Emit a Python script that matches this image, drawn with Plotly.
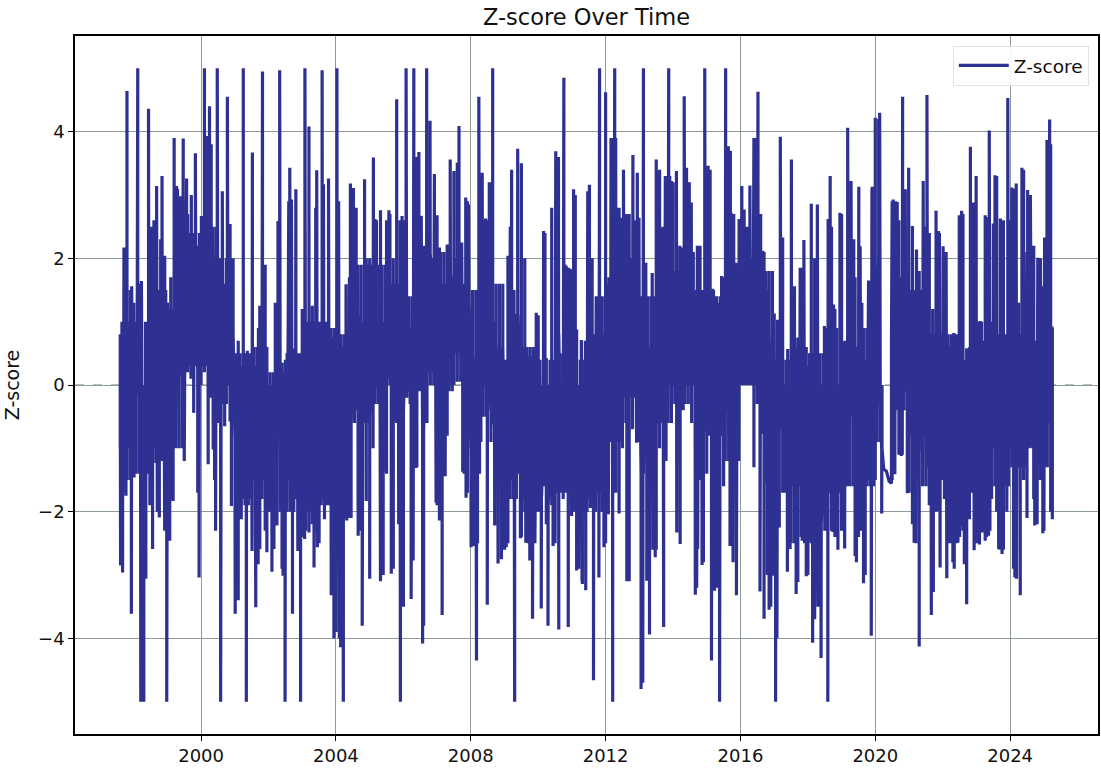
import pandas as pd
import plotly.graph_objects as go

peak_years = [
1997.71,1997.80,1997.94,1998.12,1998.23,1998.44,1998.53,1998.61,1998.68,1998.84,1998.92,1999.20,1999.27,1999.39,1999.47,1999.57,1999.71,1999.83,1999.91,
2000.01,2000.10,2000.17,2000.25,2000.31,2000.48,2000.63,2000.78,2000.86,2001.08,2001.25,2001.37,2001.52,2001.74,2001.82,2001.89,2002.28,2002.33,2002.63,2002.68,2002.81,
2003.08,2003.20,2003.43,2003.59,2003.63,2003.78,2004.03,2004.08,2004.30,2004.43,2004.52,2004.60,2004.70,2004.85,2005.11,2005.16,2005.32,2005.57,2005.80,2005.96,
2006.08,2006.31,2006.46,2006.53,2006.69,2006.79,2006.92,2007.00,2007.07,2007.12,2007.20,2007.30,2007.39,2007.50,2007.60,2007.65,2007.73,2007.85,2007.93,
2008.11,2008.24,2008.34,2008.44,2008.55,2008.65,2008.90,2009.03,2009.10,2009.17,2009.21,2009.28,2009.39,2009.51,2009.64,2009.74,2009.94,2009.99,
2010.16,2010.40,2010.52,2010.76,2010.83,2010.95,2011.05,2011.10,2011.28,2011.47,2011.52,2011.57,2011.72,2011.82,
2012.00,2012.16,2012.27,2012.37,2012.49,2012.53,2012.65,2012.81,2012.94,2012.99,2013.12,2013.19,2013.38,2013.50,2013.56,2013.65,2013.77,2013.87,2013.95,
2014.10,2014.25,2014.33,2014.40,2014.48,2014.54,2014.72,2014.81,2014.94,2015.04,2015.17,2015.29,2015.44,2015.56,2015.64,2015.72,2015.86,2015.96,
2016.04,2016.11,2016.28,2016.38,2016.46,2016.52,2016.66,2016.75,2017.00,2017.10,2017.18,2017.25,2017.40,2017.51,2017.60,2017.77,2017.88,
2018.04,2018.10,2018.28,2018.49,2018.60,2018.66,2018.76,2018.95,2019.04,2019.18,2019.28,2019.36,2019.51,2019.55,2019.80,2019.91,
2020.00,2020.13,2020.48,2020.53,2020.65,2020.81,2020.89,2020.99,2021.10,2021.22,2021.42,2021.53,2021.62,2021.80,2021.87,
2022.01,2022.18,2022.33,2022.49,2022.56,2022.71,2022.82,2022.91,2022.99,2023.11,2023.26,2023.38,2023.55,2023.71,2023.93,
2024.05,2024.18,2024.35,2024.52,2024.62,2024.82,2024.94,2025.02,2025.09,2025.17,2025.24]
peak_values = [
2.17,4.64,1.56,5.0,1.64,4.36,2.5,2.6,3.14,3.3,2.04,3.9,3.14,2.98,3.89,3.26,3.0,3.66,2.17,
2.67,5.0,3.93,4.4,3.8,5.0,3.06,4.55,2.54,0.69,5.0,0.54,3.67,1.25,4.95,1.88,2.59,4.97,3.43,2.93,3.09,
5.0,4.08,3.39,4.97,3.17,3.26,5.0,2.9,1.59,3.18,3.11,2.8,1.09,3.25,3.59,2.62,2.76,2.76,4.51,2.67,
5.0,5.0,3.68,2.67,5.0,4.17,3.33,2.68,2.17,1.43,2.09,2.22,3.56,3.38,3.51,4.09,2.25,2.96,2.85,
0.1,4.55,3.35,2.63,3.2,5.0,0.04,0.22,2.04,2.5,3.4,1.5,3.73,3.5,0.43,0.43,1.14,0.75,
2.43,2.8,3.69,4.85,1.88,1.83,3.09,2.33,0.71,3.06,3.16,1.98,1.4,5.0,
4.62,3.9,5.0,2.8,2.64,3.4,2.69,3.63,3.35,2.64,5.0,1.93,1.77,3.56,3.38,2.47,3.3,5.0,3.22,
3.38,2.17,4.56,3.43,3.2,2.88,2.2,1.4,5.0,3.46,1.52,1.4,1.72,5.0,3.77,2.72,1.93,2.62,
3.14,2.77,3.15,3.89,3.9,4.63,2.12,1.59,1.13,1.03,3.92,2.33,0.57,3.56,1.56,1.85,2.29,
0.33,2.86,2.85,0.93,2.62,3.3,1.27,2.72,0.67,4.06,3.22,2.3,3.13,2.19,1.64,3.13,
4.22,4.3,0.4,2.93,2.89,4.55,3.09,3.43,2.51,2.14,3.22,4.58,2.17,2.75,2.43,
2.19,0.62,0.82,2.68,2.75,0.58,3.76,2.88,3.3,1.01,2.68,4.02,3.31,2.63,4.53,
3.12,3.18,3.43,3.08,2.26,2.01,1.56,2.33,3.87,4.19,0.04]

trough_years = [
1997.61,1997.67,1997.77,1997.93,1998.01,1998.21,1998.30,1998.36,1998.48,1998.56,1998.66,1998.76,1998.92,1998.98,1999.07,1999.17,1999.52,1999.78,1999.91,1999.94,
2000.21,2000.36,2000.43,2000.58,2000.70,2000.90,2001.01,2001.10,2001.19,2001.34,2001.39,2001.51,2001.62,2001.69,2001.74,2001.95,
2002.10,2002.16,2002.25,2002.43,2002.49,2002.58,2002.71,2002.87,2002.95,2003.07,2003.20,2003.35,2003.45,2003.56,2003.66,2003.86,2003.94,
2004.04,2004.14,2004.22,2004.32,2004.66,2004.78,2004.90,2005.00,2005.19,2005.32,2005.46,2005.64,2005.74,2005.86,2005.91,2005.98,
2006.23,2006.29,2006.37,2006.57,2006.67,2006.97,2007.07,2007.15,2007.24,2007.76,2007.86,2008.01,2008.08,2008.17,2008.26,2008.49,2008.71,2008.81,2008.91,
2009.05,2009.20,2009.30,2009.37,2009.47,2009.63,2009.75,2009.83,2009.92,2010.09,2010.24,2010.29,2010.44,2010.61,2010.74,2010.89,2010.99,
2011.14,2011.31,2011.41,2011.55,2011.64,2011.80,2011.95,2012.08,2012.21,2012.40,2012.63,2012.92,2013.05,2013.22,2013.30,2013.47,2013.72,2013.79,
2014.11,2014.21,2014.66,2014.73,2014.86,2014.99,2015.14,2015.23,2015.38,2015.55,2015.69,2015.78,2015.88,
2016.40,2016.58,2016.70,2016.77,2016.85,2016.95,2017.04,2017.08,2017.15,2017.30,2017.39,2017.47,2017.60,2017.65,2017.70,2017.83,2017.95,
2018.05,2018.14,2018.22,2018.39,2018.51,2018.59,2018.74,2018.89,2018.99,2019.09,2019.19,2019.44,2019.57,2019.65,2019.78,2019.88,2019.98,
2020.19,2020.25,2020.33,2020.41,2020.48,2020.58,2020.77,2020.95,2021.15,2021.30,2021.42,2021.66,2021.72,2021.84,2021.92,
2022.04,2022.12,2022.22,2022.34,2022.45,2022.56,2022.64,2022.71,2022.79,2022.93,2023.09,2023.18,2023.26,2023.36,2023.50,2023.66,2023.76,2023.91,
2024.14,2024.19,2024.30,2024.38,2024.48,2024.60,2024.73,2024.85,2024.97,2025.10,2025.25]
trough_values = [
-2.85,-2.96,-1.75,-3.61,-1.46,-5,-5,-3.06,-1.9,-2.59,-1.23,-2.09,-2.3,-5,-2.46,-1.83,-1.19,-0.44,-1.65,-3.04,
-1.25,-1.02,-2.3,-5,-0.65,-1.91,-3.61,-3.4,-2.12,-5,-1.86,-2.62,-3.51,-2.83,-2.59,-2.64,
-2.95,-2.59,-2.22,-3.01,-5,-1.49,-3.61,-2.62,-5,-2.43,-2.33,-2.88,-2.56,-1.88,-2.12,-3.32,-4.0,
-2.8,-4.14,-5,-2.14,-2.38,-3.8,-1.83,-3.06,-0.05,-3.1,-1.36,-2.98,-0.57,-2.2,-5,-0.68,
-3.38,-2.77,-1.31,-4.08,-0.57,-1.86,-2.14,-3.63,-1.44,-1.37,-1.78,-2.56,-2.54,-4.35,-1.4,-3.47,-2.22,-2.82,-2.75,
-2.56,-1.44,-5,-1.36,-2.42,-2.49,-2.77,-3.69,-2.49,-3.53,-2.2,-3.8,-2.54,-3.86,-1.8,-3.82,-2.07,
-2.93,-3.14,-3.24,-1.94,-4.66,-3.04,-2.56,-2.04,-5,-2.03,-3.1,-0.91,-4.8,-3.09,-3.94,-2.72,-3.82,-1.2,
-2.33,-2.51,-3.31,-2.59,-2.84,-1.33,-4.35,-3.25,-5,-1.2,-2.54,-2.8,-3.32,
-1.29,-3.26,-3.69,-1.54,-3.55,-3.01,-5,-4.0,-2.25,-1.67,-2.95,-2.59,-2.49,-3.3,-3.11,-2.46,-3.02,
-2.46,-4.07,-3.67,-4.31,-2.3,-5,-2.32,-2.6,-2.28,-2.58,-1.57,-2.8,-2.3,-3.13,-1.49,-3.96,-1.49,
-2.03,-1.33,-1.36,-1.52,-1.55,-1.41,-1.12,-1.71,-2.49,-4.13,-1.59,-3.63,-3.27,-1.99,-2.88,
-0.89,-3.05,-2.5,-2.9,-2.49,-2.22,-2.83,-3.46,-2.12,-2.61,-2.52,-2.33,-2.46,-2.38,-0.94,-2.59,-2.67,-1.59,
-3.04,-3.06,-3.32,-1.49,-2.08,-0.96,-2.22,-0.7,-2.34,-0.91,-2.12]

# Upper and lower edge of the dense mass of the trace, read every 0.1 year from 1997.6
mass_start = 1997.6
mass_upper = [
0.8,2.1,1.6,1.5,
1.3,1.1,1.6,0.0,0.6,2.5,2.6,2.3,2.3,2.0,
1.3,1.7,2.0,3.1,2.9,2.9,2.7,2.9,2.2,2.2,
2.6,2.6,3.9,3.8,2.0,1.6,1.6,1.6,2.5,0.8,
0.4,0.7,0.3,0.5,0.5,0.2,0.3,0.9,1.3,1.9,
0.0,0.0,1.3,1.9,0.35,0.4,2.9,2.9,2.9,0.5,
1.2,4.0,4.0,1.25,2.8,1.0,1.0,1.0,3.2,0.75,
0.7,2.9,0.6,1.55,1.7,3.1,2.8,1.1,1.0,2.0,
2.0,2.4,2.6,2.7,1.0,2.6,2.7,2.0,2.0,2.6,
2.6,2.6,0.9,1.5,3.6,2.6,2.2,2.0,4.1,3.3,
2.6,2.1,2.1,2.2,3.5,3.3,3.5,2.2,1.6,2.9,
0.5,0.1,0.4,3.3,2.6,2.6,3.2,1.0,0.0,0.04,
0.1,2.0,2.5,1.5,3.6,3.5,2.0,0.45,0.45,0.0,
1.1,0.0,2.4,0.0,1.9,2.8,3.6,0.0,1.9,1.85,
1.8,3.0,0.0,0.7,0.7,3.0,2.0,0.4,1.4,1.4,
2.0,1.7,3.9,3.9,2.8,2.6,2.7,2.7,2.6,2.6,
2.6,1.9,1.9,0.6,1.2,1.3,3.4,2.5,2.0,3.3,
3.2,2.1,2.2,2.15,3.4,3.2,2.1,0.4,2.2,1.4,
0.8,3.4,1.5,1.4,1.4,1.7,1.7,3.7,2.7,1.9,
2.5,2.7,2.5,3.1,3.9,3.9,2.7,2.1,1.5,0.0,
1.1,1.0,2.3,0.0,0.55,1.5,1.5,0.75,1.85,2.25,
0.3,2.8,2.0,2.8,0.0,0.9,2.6,2.5,1.2,0.0,
2.7,0.7,3.2,3.2,1.7,2.2,1.3,0.4,1.65,3.1,
4.2,4.2,0.0,None,None,2.9,2.9,2.6,2.4,3.0,
2.6,2.5,2.1,1.8,2.9,2.5,2.4,1.2,2.7,2.4,
2.1,2.1,0.6,0.5,0.8,2.65,2.7,0.55,0.6,1.7,
1.7,1.0,0.7,2.65,2.65,2.55,3.3,2.5,2.6,0.6,
2.6,3.1,3.1,0.8,3.4,2.1,3.0,2.2,1.7,2.0,
1.6,1.6,3.8]
mass_lower = [
-2.8,-1.7,-1.5,-1.5,
-1.4,-0.1,-3.0,-3.0,-1.0,-1.7,-1.0,-2.0,0.0,-2.2,
-2.4,-1.8,0.0,0.1,0.2,-1.2,0.2,0.1,-0.4,-1.7,
0.0,0.2,-1.2,-0.2,-1.5,-0.6,-0.7,-0.6,0.0,-1.9,
-2.0,-2.1,-2.1,-1.9,-1.9,-2.5,-2.5,-2.3,-1.8,-2.3,
-2.0,-2.3,-2.2,-0.1,-2.9,-2.9,-1.5,-1.8,-1.8,-2.5,
-2.4,-2.3,-2.3,-2.2,-2.3,-2.5,-1.8,-1.1,-1.9,-3.3,
-3.9,-4.0,-4.1,-2.1,-2.1,-0.2,-0.4,-2.3,-1.8,-1.8,
-3.0,-1.0,-0.05,-0.1,-3.0,-1.4,0.0,-2.9,-0.6,-2.2,
-3.5,-0.2,-0.3,-1.3,-1.3,-0.1,-3.8,-0.6,0.0,0.0,
-1.9,-2.1,-1.4,-0.8,0.0,0.0,0.05,0.05,-1.4,-1.7,
-2.5,-2.5,-2.5,-0.9,0.0,-3.4,-0.9,-2.2,-2.8,-2.7,
-2.6,-2.5,-1.5,-1.8,-1.4,-2.4,-2.0,-2.5,-2.7,-2.5,
-2.0,-3.5,-1.6,-3.7,-1.9,-2.5,-2.0,-1.7,-1.7,-3.7,
-2.0,-1.3,-2.9,-3.1,-3.2,-1.8,-1.9,-2.0,-3.0,-2.0,
-2.5,-1.7,-2.0,-1.7,-2.0,-1.0,-0.6,-3.1,-0.7,-0.1,
-0.9,-4.7,-0.8,-3.0,-2.6,-2.6,-1.0,-0.9,-0.9,0.0,
0.0,-0.3,-2.3,-0.4,0.0,0.0,0.0,-3.2,-1.5,-2.8,
-1.4,-0.5,-3.2,-3.2,-2.0,-1.6,-0.4,-1.2,-1.9,-2.8,
0.0,0.0,0.0,0.0,-1.3,-0.3,-3.2,-3.6,-3.0,-3.5,
-3.0,-4.0,-0.7,-1.7,-2.9,-2.5,-2.5,-3.1,-2.4,-2.5,
-3.0,-2.5,-3.7,-3.5,-4.3,-2.3,-1.9,-2.3,-2.4,-2.6,
-2.3,-2.5,-1.6,-0.5,-2.7,-2.4,-2.3,-3.0,-1.5,-3.9,
-1.5,-0.1,-2.0,None,None,-1.5,-1.4,-1.1,-1.1,-0.1,
-1.7,-2.2,-2.5,-4.0,-1.6,-1.6,-1.9,-3.2,-2.0,-2.8,
-1.5,-3.0,-2.5,-2.8,-2.5,-2.4,-2.3,-3.4,-2.1,-0.4,
-2.5,-2.5,-2.3,-2.4,-2.3,-1.0,-2.0,-2.6,-2.6,-2.0,
-1.0,-2.9,-3.0,-3.3,-1.5,-2.1,-0.9,-1.8,-2.2,-1.5,
-2.3,-1.3,-2.0]
# Edges of the fully solid core of the trace, read for each half year from 1997.5 on
core_upper = [1.0,1.0,1.5,1.2,2.4,2.5,2.0,0.5,0.6,0.2,0.5,1.0,0.9,0.8,1.9,1.9,1.6,1.4,2.0,1.6,2.0,1.5,1.6,0.4,0.6,0.4,0.5,0.4,0.8,1.6,2.0,1.4,1.6,1.8,1.5,1.3,1.5,2.0,1.8,0.4,0.6,0.5,0.9,0.6,0.9,0.2,1.7,1.5,0.8,0.8,0.4,1.0,0.8,1.3,0.7,1.1]
core_lower = [-1.0,-1.4,-1.2,-1.0,0.3,0.3,-0.3,-1.8,-1.5,-2.0,-2.0,-2.0,-1.9,-2.1,-0.6,-0.3,0.1,-0.1,0.2,-0.1,0.5,-0.5,-0.3,-1.8,-1.8,-1.5,-1.7,-2.0,-1.7,-0.9,-0.2,-0.8,-0.6,-0.3,-0.6,-0.8,-1.2,0.0,-0.1,-1.7,-1.6,-1.8,-1.7,-1.6,-1.6,-0.9,-0.4,-0.8,-1.3,-1.8,-1.7,-1.8,-1.6,-1.3,-1.0,-0.6]
# The quiet stretch of 2020 where the trace runs as a single thin line
plateau_years = [2020.25, 2020.33, 2020.41, 2020.48]

y_ticks = [-4, -2, 0, 2, 4]
series_name = "Z-score"


def mass_mid(y):
    i = max(0, min(len(mass_upper) - 1, round((y - mass_start) * 10)))
    while mass_upper[i] is None:
        i += 1
    return (mass_upper[i] + mass_lower[i]) / 2


events = []
for i, (hi, lo) in enumerate(zip(mass_upper, mass_lower)):
    if hi is None:
        continue
    y = round(mass_start + i * 0.1, 2)
    mid = (hi + lo) / 2
    events.append((y, 0.0, [mid, hi, lo, mid]))
    y2 = round(y + 0.05, 2)
    if y2 <= 2025.2 and not (2020.2 < y2 < 2020.5):
        j = int((y2 - 1997.5) * 2)
        c_hi, c_lo = core_upper[j], core_lower[j]
        c_mid = (c_hi + c_lo) / 2
        events.append((y2, 0.0, [c_mid, c_hi, c_lo, c_mid]))
for y, v in zip(peak_years, peak_values):
    m = mass_mid(y)
    events.append((y, v, [m, v, m]))
for y, v in zip(trough_years, trough_values):
    if y in plateau_years:
        events.append((y, v, [v]))
    else:
        m = mass_mid(y)
        events.append((y, v, [m, v, m]))
events.sort(key=lambda e: (e[0], e[1]))

years, z_scores = [], []
for y, _, vals in events:
    years += [y] * len(vals)
    z_scores += vals


def year_to_date(y):
    base = pd.Timestamp(year=int(y), month=1, day=1)
    return (base + pd.Timedelta(days=(y - int(y)) * 365.25)).round("h")


dates = [year_to_date(y) for y in years]

INK = "#2e3192"
GRID = "#8c9a9a"
FONT = "DejaVu Sans"

fig = go.Figure(go.Scatter(x=dates, y=z_scores, mode="lines", name=series_name,
                           line=dict(color=INK, width=3.2), showlegend=True))
fig.add_hline(y=0, line=dict(color="#6f7f7f", width=1.2, dash="dash"), layer="below")
fig.update_layout(
    width=1101, height=771,
    margin=dict(l=75, r=1, t=36, b=37),
    paper_bgcolor="white", plot_bgcolor="white",
    font=dict(family=FONT, size=18, color="#111111"),
    title=dict(text="Z-score Over Time", x=0.5327, xanchor="center", y=0.978, yanchor="middle",
               font=dict(size=22.5, family=FONT, color="#111111")),
    legend=dict(x=0.991, xanchor="right", y=0.986, yanchor="top", bgcolor="rgba(255,255,255,0.9)",
                bordercolor="#dfe3e3", borderwidth=1, itemwidth=50, font=dict(size=18.5)),
    xaxis=dict(type="date", range=["1996-04-05", "2026-08-10"], tick0="2000-01-01", dtick="M48",
               tickformat="%Y", showgrid=True, gridcolor=GRID, gridwidth=1.3,
               ticks="outside", ticklen=5, tickcolor="black", showline=True, linecolor="black", linewidth=1.5,
               mirror=True, zeroline=False),
    yaxis=dict(range=[-5.51, 5.51], tickvals=y_ticks, showgrid=True, gridcolor=GRID, gridwidth=1.3,
               title=dict(text=series_name, standoff=13, font=dict(size=19)),
               ticks="outside", ticklen=5, tickcolor="black", showline=True, linecolor="black", linewidth=1.5,
               mirror=True, zeroline=False),
)
fig.write_html("out.html", post_script="document.body.style.margin='0';",
               config={"displayModeBar": False})
